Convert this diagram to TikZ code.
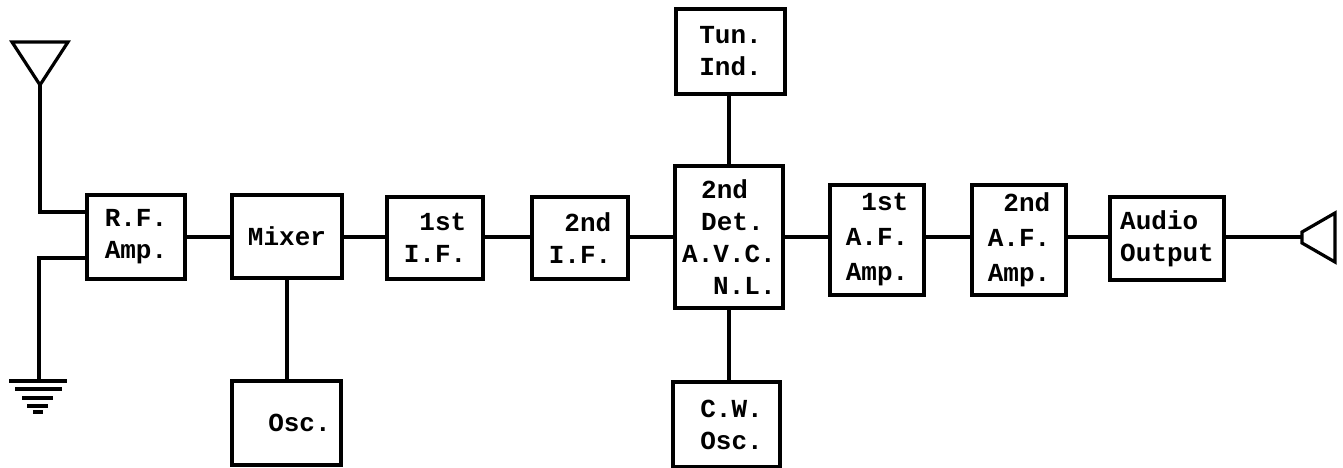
\documentclass[tikz,border=0pt]{standalone}
\usepackage{fontspec}
\setmonofont{Liberation Mono}
\begin{document}
\begin{tikzpicture}[x=1pt,y=-1pt,
  blk/.style={draw, line width=3.2pt, inner sep=0pt,
    font=\bfseries\ttfamily\fontsize{26}{32}\selectfont, align=center},
  wire/.style={line width=3.2pt},
  gbar/.style={line width=3.8pt}]
\useasboundingbox (0,0) rectangle (1343,468);
% blocks
\node[blk, minimum width=98pt, minimum height=84pt] (rf) at (136,237) {R.F.\\Amp.};
\node[blk, minimum width=110pt, minimum height=83pt] (mix) at (287,236.5) {Mixer};
\node[blk, minimum width=109pt, minimum height=84pt] (osc) at (286.5,423) {\hspace*{26pt}Osc.};
\node[blk, minimum width=96pt, minimum height=82pt, align=right] (if1) at (435,238) {1st\\I.F.};
\node[blk, minimum width=96pt, minimum height=82pt, align=right] (if2) at (580,238) {2nd\\I.F.};
\node[blk, minimum width=108pt, minimum height=142pt, align=left] (det) at (729,237)
  {\hspace*{19pt}2nd\\\hspace*{19pt}Det.\\A.V.C.\\\hspace*{31pt}N.L.};
\node[blk, minimum width=109pt, minimum height=85pt] (tun) at (730.5,51.5) {Tun.\\Ind.};
\node[blk, minimum width=107pt, minimum height=85pt] (cw) at (726.5,424.5) {\hspace*{10pt}C.W.\\\hspace*{10pt}Osc.};
\node[blk, minimum width=94pt, minimum height=110pt, align=right,
  font=\bfseries\ttfamily\fontsize{26}{35}\selectfont] (af1) at (877,240) {1st\\A.F.\\Amp.};
\node[blk, minimum width=94pt, minimum height=110pt, align=right,
  font=\bfseries\ttfamily\fontsize{26}{35}\selectfont] (af2) at (1019,240) {2nd\\A.F.\\Amp.};
\node[blk, minimum width=114pt, minimum height=83pt, align=left] (out) at (1167,238.5) {Audio\\Output};
% main signal line
\coordinate (main) at (0,237);
\draw[wire] (rf.east |- main) -- (mix.west |- main);
\draw[wire] (mix.east |- main) -- (if1.west |- main);
\draw[wire] (if1.east |- main) -- (if2.west |- main);
\draw[wire] (if2.east |- main) -- (det.west |- main);
\draw[wire] (det.east |- main) -- (af1.west |- main);
\draw[wire] (af1.east |- main) -- (af2.west |- main);
\draw[wire] (af2.east |- main) -- (out.west |- main);
% branches
\draw[wire] (mix.south) -- (mix.south |- osc.north);
\draw[wire] (det.north) -- (det.north |- tun.south);
\draw[wire] (det.south) -- (det.south |- cw.north);
% antenna
\coordinate (ant) at (40,85);
\draw[wire, line join=miter] (12,42) -- (68,42) -- (ant) -- cycle;
\draw[wire] (ant) |- ([yshift=25pt]rf.west);
% ground
\coordinate (gnd) at (39,381);
\draw[wire] ([yshift=-21pt]rf.west) -| (gnd);
\draw[gbar] (9,381) -- (67,381);
\draw[gbar] (15,389) -- (62,389);
\draw[gbar] (22,398) -- (53,398);
\draw[gbar] (27,406) -- (48,406);
\draw[gbar] (33,412) -- (43,412);
% speaker
\coordinate (spk) at (1302,237);
\draw[wire] (out.east |- main) -- (spk);
\draw[wire, line join=miter] (1302,232) -- (1335,213) -- (1335,262) -- (1302,243) -- cycle;
\end{tikzpicture}
\end{document}
